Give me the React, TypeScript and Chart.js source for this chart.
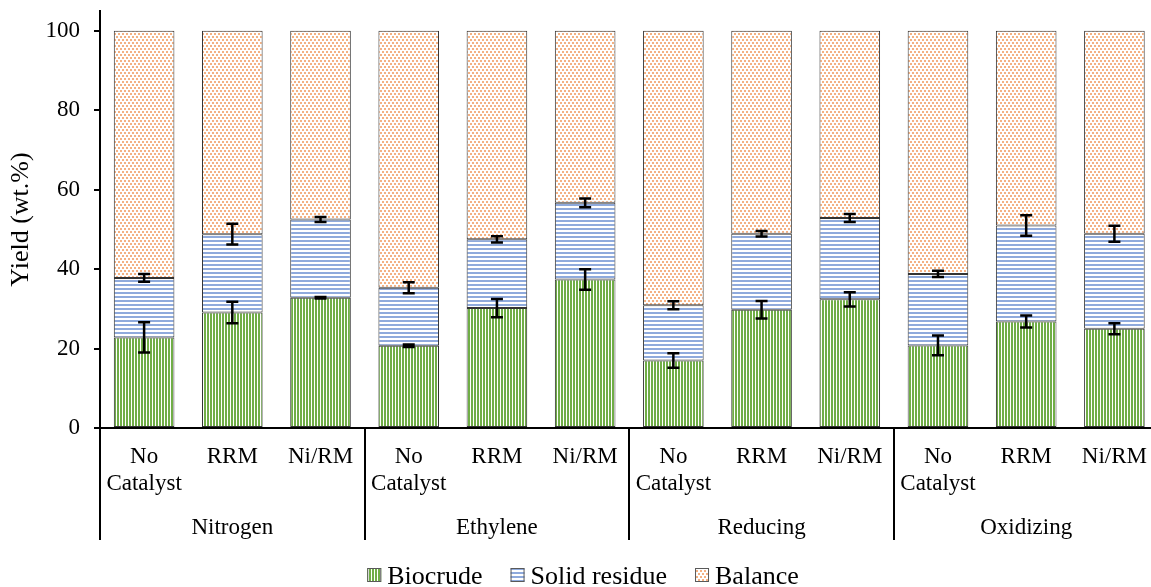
import React, { useEffect, useRef } from "react";
import { Chart, registerables } from "chart.js";

Chart.register(...registerables);

const categories: (string | string[])[] = [
  ["No", "Catalyst"], "RRM", "Ni/RM",
  ["No", "Catalyst"], "RRM", "Ni/RM",
  ["No", "Catalyst"], "RRM", "Ni/RM",
  ["No", "Catalyst"], "RRM", "Ni/RM",
];
const groups = ["Nitrogen", "Ethylene", "Reducing", "Oxidizing"];

const biocrude = [22.8, 29.1, 32.8, 20.7, 30.2, 37.4, 17.0, 29.8, 32.4, 20.8, 26.8, 25.0];
const solidResidue = [15.0, 19.7, 19.7, 14.6, 17.3, 19.3, 13.9, 19.1, 20.5, 18.0, 24.2, 23.9];
const balance = [62.2, 51.2, 47.5, 64.7, 52.5, 43.3, 69.1, 51.1, 47.1, 61.2, 49.0, 51.1];

const biocrudeErr = [3.8, 2.7, 0.2, 0.3, 2.3, 2.6, 1.8, 2.2, 1.8, 2.5, 1.5, 1.4];
const solidErr = [1.0, 2.6, 0.6, 1.4, 0.8, 1.1, 1.0, 0.7, 1.0, 0.8, 2.6, 2.0];

const yTicks = [0, 20, 40, 60, 80, 100];

const FONT = "'Liberation Serif', 'Times New Roman', serif";

function makePattern(kind: string): CanvasPattern | string {
  const c = document.createElement("canvas");
  let w = 4, h = 4;
  if (kind === "v") { w = 3; h = 3; }
  if (kind === "d") { w = 4; h = 6; }
  c.width = w; c.height = h;
  const g = c.getContext("2d")!;
  g.fillStyle = "#ffffff";
  g.fillRect(0, 0, w, h);
  if (kind === "v") {
    g.fillStyle = "#70AD47";
    g.fillRect(0, 0, 2, 3);
  } else if (kind === "h") {
    g.fillStyle = "#8FAADC";
    g.fillRect(0, 0, 4, 2);
  } else {
    g.fillStyle = "#F4B183";
    g.fillRect(0, 0, 2, 2);
    g.fillRect(2, 3, 2, 2);
  }
  const p = g.createPattern(c, "repeat");
  return p || "#ccc";
}

const overlayPlugin = {
  id: "overlay",
  afterDatasetsDraw(chart: any) {
    const ctx = chart.ctx;
    const y = chart.scales.y;
    ctx.save();
    ctx.strokeStyle = "#000";
    ctx.lineWidth = 2.5;
    const draw = (xp: number, v: number, e: number) => {
      const t = y.getPixelForValue(v + e);
      const b = y.getPixelForValue(v - e);
      ctx.beginPath();
      ctx.moveTo(xp, t); ctx.lineTo(xp, b);
      ctx.moveTo(xp - 6, t); ctx.lineTo(xp + 6, t);
      ctx.moveTo(xp - 6, b); ctx.lineTo(xp + 6, b);
      ctx.stroke();
    };
    chart.getDatasetMeta(0).data.forEach((el: any, i: number) => {
      draw(el.x, biocrude[i], biocrudeErr[i]);
      draw(el.x, biocrude[i] + solidResidue[i], solidErr[i]);
    });
    ctx.restore();
  },
  afterDraw(chart: any) {
    const ctx = chart.ctx;
    const x = chart.scales.x;
    const { bottom, left, right } = chart.chartArea;
    const sepBottom = bottom + 112;
    const xs = [left];
    for (let gi = 1; gi < groups.length; gi++) {
      const k = gi * 3;
      xs.push((x.getPixelForValue(k - 1) + x.getPixelForValue(k)) / 2);
    }
    xs.push(right);
    ctx.save();
    ctx.strokeStyle = "#000";
    ctx.lineWidth = 2;
    ctx.beginPath();
    xs.forEach((xp) => {
      ctx.moveTo(Math.round(xp), bottom);
      ctx.lineTo(Math.round(xp), sepBottom);
    });
    ctx.stroke();
    ctx.fillStyle = "#000";
    ctx.font = `23px ${FONT}`;
    ctx.textAlign = "center";
    ctx.textBaseline = "alphabetic";
    groups.forEach((g, gi) => {
      ctx.fillText(g, x.getPixelForValue(gi * 3 + 1), bottom + 106);
    });

    // legend
    ctx.font = `26px ${FONT}`;
    ctx.textAlign = "left";
    const box = 14, gapBox = 6, gapItem = 28;
    const items = chart.data.datasets.map((d: any) => ({
      label: d.label,
      fill: d.backgroundColor,
      stroke: d.borderColor,
      w: ctx.measureText(d.label).width,
    }));
    const total = items.reduce((s: number, it: any) => s + box + gapBox + it.w, 0) + gapItem * (items.length - 1);
    let cx = 583 - total / 2;
    const baseY = bottom + 156;
    items.forEach((it: any) => {
      ctx.fillStyle = it.fill;
      ctx.fillRect(cx, baseY - 16, box, box);
      ctx.strokeStyle = "#595959";
      ctx.lineWidth = 1;
      ctx.strokeRect(cx + 0.5, baseY - 16 + 0.5, box - 1, box - 1);
      ctx.fillStyle = "#000";
      ctx.fillText(it.label, cx + box + gapBox, baseY);
      cx += box + gapBox + it.w + gapItem;
    });
    ctx.restore();
  },
};

export default function App() {
  const ref = useRef<HTMLCanvasElement | null>(null);
  useEffect(() => {
    if (!ref.current) return;
    const border = "#333333";
    const chart = new Chart(ref.current, {
      type: "bar",
      data: {
        labels: categories,
        datasets: [
          {
            label: "Biocrude",
            data: biocrude,
            backgroundColor: makePattern("v") as any,
            borderColor: border,
            borderWidth: 1,
            borderSkipped: false,
          },
          {
            label: "Solid residue",
            data: solidResidue,
            backgroundColor: makePattern("h") as any,
            borderColor: border,
            borderWidth: 1,
            borderSkipped: false,
          },
          {
            label: "Balance",
            data: balance,
            backgroundColor: makePattern("d") as any,
            borderColor: border,
            borderWidth: 1,
            borderSkipped: false,
          },
        ],
      },
      options: {
        animation: false,
        responsive: false,
        devicePixelRatio: 1,
        events: [],
        layout: { padding: { top: 11, right: 11.5, left: 0, bottom: 51 } },
        datasets: { bar: { categoryPercentage: 1, barPercentage: 0.687 } },
        plugins: {
          tooltip: { enabled: false },
          legend: { display: false },
        },
        scales: {
          x: {
            stacked: true,
            grid: { display: false },
            border: { display: true, color: "#000", width: 2 },
            ticks: {
              color: "#000",
              font: { family: FONT, size: 23 },
              padding: 7,
              maxRotation: 0,
              autoSkip: false,
            },
            afterFit: (s: any) => {
              s.height = 108;
              s.paddingLeft = 0;
              s.paddingRight = 0;
            },
          },
          y: {
            stacked: true,
            min: 0,
            max: 105,
            grid: {
              drawOnChartArea: false,
              drawTicks: true,
              tickLength: 6,
              color: "#000",
              lineWidth: 2,
            },
            border: { display: true, color: "#000", width: 2 },
            ticks: {
              stepSize: 20,
              color: "#000",
              font: { family: FONT, size: 23 },
              padding: 14,
            },
            afterBuildTicks: (s: any) => {
              s.ticks = yTicks.map((v) => ({ value: v }));
            },
            afterFit: (s: any) => {
              s.width = 100;
              s.paddingTop = 0;
              s.paddingBottom = 0;
            },
            title: {
              display: true,
              text: "Yield (wt.%)",
              color: "#000",
              font: { family: FONT, size: 26 },
              padding: { top: 6, bottom: 4 },
            },
          },
        },
      },
      plugins: [overlayPlugin],
    } as any);
    return () => chart.destroy();
  }, []);
  return (
    <div
      style={{
        position: "fixed",
        left: 0,
        top: 0,
        width: 1151,
        height: 587,
        overflow: "hidden",
        background: "#fff",
      }}
    >
      <canvas ref={ref} width={1170} height={587} style={{ display: "block" }} />
    </div>
  );
}
